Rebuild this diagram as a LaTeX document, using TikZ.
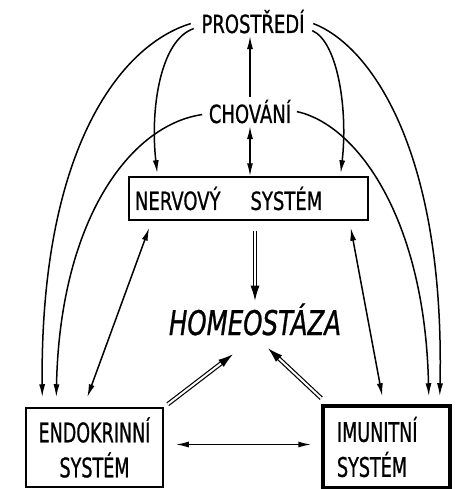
\documentclass[tikz,border=0pt]{standalone}
\usepackage{fontspec}
\newfontfamily\lettering[FakeStretch=0.72,FakeBold=0.8]{DejaVu Sans}
\newfontfamily\boxlettering[FakeStretch=0.65,FakeBold=0.8]{DejaVu Sans}
\usetikzlibrary{arrows.meta}
\begin{document}
\begin{tikzpicture}[x=1pt,y=-1pt,line width=1.5pt,
    every node/.style={inner sep=2pt},
    word/.style={font=\lettering\fontsize{25}{28}\selectfont,anchor=base},
    sysbox/.style={draw,line width=1.5pt,inner sep=0pt,
      font=\boxlettering\fontsize{27}{35}\selectfont},
    tip/.style={-{Latex[length=13pt,width=6pt]}},
    both/.style={{Latex[length=13pt,width=6pt]}-{Latex[length=13pt,width=6pt]}},
    fat/.style={double,double distance=2pt,line width=1.2pt,
      -{Latex[length=15pt,width=9pt]}}]
    \useasboundingbox (0,0) rectangle (458,489);
    % labels and boxes
    \node[word] (prostredi) at (253,33) {PROSTŘEDÍ};
    \node[word] (chovani) at (250,123) {CHOVÁNÍ};
    \node[draw,inner sep=0pt,inner xsep=6pt,minimum height=43pt,
      text width=227pt,align=left,font=\lettering\fontsize{25}{28}\selectfont]
      (nervovy) at (248.5,198.5) {NERVOVÝ\hspace{30pt}SYSTÉM};
    \node[anchor=base,font=\lettering\itshape\fontsize{34}{36}\selectfont]
      (homeo) at (255,335) {HOMEOSTÁZA};
    \node[sysbox,minimum width=137pt,minimum height=79pt,align=center]
      (endo) at (94.5,447.5) {ENDOKRINNÍ\\SYSTÉM};
    \node[sysbox,line width=3.5pt,minimum width=127pt,minimum height=82pt,
      text width=99pt,align=left]
      (imun) at (386.5,447) {IMUNITNÍ\\SYSTÉM};
    % straight links
    \draw[tip] (chovani.north) -- (chovani.north |- prostredi.south);
    \draw[both] (chovani.south) -- (chovani.south |- nervovy.north);
    \draw[both] ([xshift=21pt,yshift=-7pt]nervovy.south west)
      -- ([xshift=62pt,yshift=10pt]endo.north west);
    \draw[both] ([xshift=-18pt,yshift=-7pt]nervovy.south east)
      -- ([xshift=61pt,yshift=8pt]imun.north west);
    \draw[both,shorten <=12pt,shorten >=10pt] ([yshift=3pt]endo.east)
      -- ([yshift=3pt]endo.east -| imun.west);
    % into homeostasis
    \draw[fat,shorten <=10pt] (nervovy.south -| homeo) -- (homeo.north);
    \draw[fat] ([xshift=4pt,yshift=3pt]endo.north east)
      -- ([xshift=-22pt,yshift=-16pt]homeo.south);
    \draw[fat] ([yshift=6pt]imun.north west)
      -- ([xshift=13pt,yshift=-10pt]homeo.south);
    % curved links
    \draw[tip] ([xshift=-8pt,yshift=-2pt]prostredi.west)
      .. controls (120,45) and (40,150) .. ([xshift=17pt,yshift=10pt]endo.north west);
    \draw[tip] ([xshift=-5pt,yshift=-7pt]prostredi.west)
      .. controls (160,40) and (150,110) .. ([xshift=29pt,yshift=3pt]nervovy.north west);
    \draw[tip] ([xshift=6pt,yshift=-2pt]prostredi.east)
      .. controls (370,45) and (445,150) .. ([xshift=-12pt,yshift=8pt]imun.north east);
    \draw[tip] ([xshift=5pt,yshift=-9pt]prostredi.east)
      .. controls (338,42) and (348,110) .. ([xshift=-28pt,yshift=3pt]nervovy.north east);
    \draw[tip] ([xshift=-4pt,yshift=-3pt]chovani.west)
      .. controls (130,125) and (60,220) .. ([xshift=31pt,yshift=10pt]endo.north west);
    \draw[tip] ([xshift=3pt]chovani.east)
      .. controls (358,125) and (425,220) .. ([xshift=-23pt,yshift=8pt]imun.north east);
  \end{tikzpicture}
\end{document}
